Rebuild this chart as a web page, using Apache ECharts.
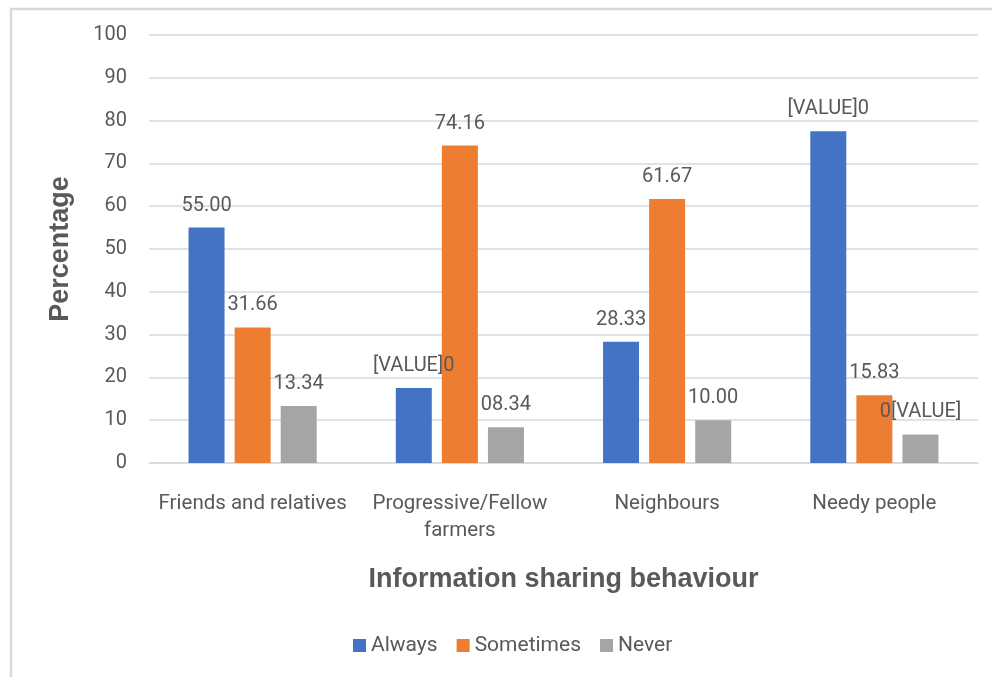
<!DOCTYPE html>
<html>
<head>
<meta charset="utf-8">
<script src="https://cdn.jsdelivr.net/npm/echarts@6/dist/echarts.min.js"></script>
<style>
html,body{margin:0;padding:0;background:#fff;}
#chart{width:992px;height:677px;}
</style>
</head>
<body>
<div id="chart"></div>
<script>
const categories = ["Friends and relatives", "Progressive/Fellow\nfarmers", "Neighbours", "Needy people"];
const seriesNames = ["Always", "Sometimes", "Never"];
const alwaysValues = [55.00, 17.50, 28.33, 77.50];
const sometimesValues = [31.66, 74.16, 61.67, 15.83];
const neverValues = [13.34, 8.34, 10.00, 6.67];
const alwaysLabels = ["55.00", "[VALUE]0", "28.33", "[VALUE]0"];
const sometimesLabels = ["31.66", "74.16", "61.67", "15.83"];
const neverLabels = ["13.34", "08.34", "10.00", "0[VALUE]"];
const yTicks = {min: 0, max: 100, interval: 10};

const colors = ["#4472C4", "#ED7D31", "#A5A5A5"];
const txt = "#595959";
const chart = echarts.init(document.getElementById('chart'), null, {renderer: 'canvas'});

function mkSeries(name, values, labels, color) {
  return {
    name: name,
    type: 'bar',
    barWidth: 36,
    barGap: '28%',
    data: values,
    itemStyle: {color: color},
    label: {
      show: true,
      position: 'top',
      distance: 12,
      color: txt,
      fontFamily: 'Roboto',
      fontSize: 20,
      formatter: function (p) { return labels[p.dataIndex]; }
    }
  };
}

chart.setOption({
  animation: false,
  backgroundColor: '#fff',
  color: colors,
  graphic: [{
    type: 'rect',
    shape: {x: 11, y: 9, width: 1100, height: 800},
    style: {fill: 'none', stroke: '#d9d9d9', lineWidth: 2.5},
    silent: true
  }],
  grid: {left: 149, right: 14, top: 35, bottom: 214},
  legend: {
    data: seriesNames,
    top: 630,
    left: 348,
    itemWidth: 13,
    itemHeight: 13,
    itemGap: 19,
    icon: 'rect',
    textStyle: {color: txt, fontFamily: 'Roboto', fontSize: 21}
  },
  xAxis: {
    type: 'category',
    data: categories,
    name: 'Information sharing behaviour',
    nameLocation: 'middle',
    nameGap: 103,
    nameTextStyle: {color: txt, fontFamily: 'Liberation Sans', fontWeight: 'bold', fontSize: 27},
    axisLine: {lineStyle: {color: '#d9d9d9', width: 1.5}},
    axisTick: {show: false},
    axisLabel: {color: txt, fontFamily: 'Roboto', fontSize: 20.5, margin: 27, lineHeight: 27, interval: 0}
  },
  yAxis: {
    type: 'value',
    min: yTicks.min,
    max: yTicks.max,
    interval: yTicks.interval,
    name: 'Percentage',
    nameLocation: 'middle',
    nameGap: 75,
    nameTextStyle: {color: txt, fontFamily: 'Liberation Sans', fontWeight: 'bold', fontSize: 27},
    axisLine: {show: false},
    axisTick: {show: false},
    splitLine: {lineStyle: {color: '#d9d9d9', width: 1.5}},
    axisLabel: {color: txt, fontFamily: 'Roboto', fontSize: 20, margin: 22}
  },
  series: [
    mkSeries(seriesNames[0], alwaysValues, alwaysLabels, colors[0]),
    mkSeries(seriesNames[1], sometimesValues, sometimesLabels, colors[1]),
    mkSeries(seriesNames[2], neverValues, neverLabels, colors[2])
  ]
});
</script>
</body>
</html>
